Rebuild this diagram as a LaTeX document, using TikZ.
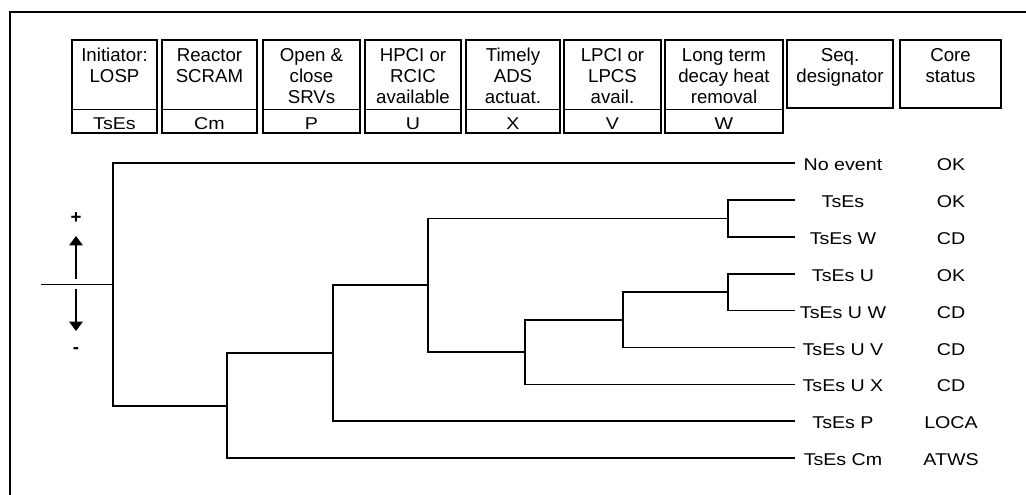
\documentclass[tikz,border=0pt]{standalone}
\usepackage{fontspec}
\setmainfont{Liberation Sans}
\newfontfamily\labfont{Liberation Sans}[FakeStretch=1.15]
\usetikzlibrary{arrows.meta}
\begin{document}
\begin{tikzpicture}[x=0.75pt,y=-0.75pt,
  tree/.style={line width=1.25pt},
  hdr/.style={draw,line width=1.1pt},
  htext/.style={font=\fontsize{14pt}{15.75pt}\selectfont,align=center,anchor=north,inner sep=0pt},
  ctext/.style={font=\labfont\fontsize{12.8pt}{14pt}\selectfont,anchor=base,inner sep=0pt},
  lab/.style={font=\labfont\fontsize{12.8pt}{14pt}\selectfont,anchor=base,inner sep=0pt},
  sign/.style={font=\bfseries\fontsize{14pt}{16pt}\selectfont,inner sep=0pt},
  arr/.style={line width=1.3pt,-{Triangle[width=10pt,length=7pt]}}
]
\useasboundingbox (0,0) rectangle (1026,495);
% outer frame
\draw[line width=1.5pt] (10,495) -- (10,12) -- (1026,12);

% header boxes with code cells
\foreach \l/\r/\nm/\cd in {72/157/h1/TsEs,162/257/h2/Cm,263/360/h3/P,365/461/h4/U,466/560/h5/X,564/661/h6/V,665/783/h7/W}{
  \draw[hdr] (\l,40) rectangle (\r,133);
  \draw[hdr] (\l,109.5) -- (\r,109.5);
  \node[ctext] (\nm c) at ({(\l+\r)/2},129.3) {\cd};
}
\node[htext] (h1) at (114.5,48) {Initiator:\\LOSP};
\node[htext] (h2) at (209.5,48) {Reactor\\SCRAM};
\node[htext] (h3) at (311.5,48) {Open \&\\close\\SRVs};
\node[htext] (h4) at (413,48) {HPCI or\\RCIC\\available};
\node[htext] (h5) at (513,48) {Timely\\ADS\\actuat.};
\node[htext] (h6) at (612.5,48) {LPCI or\\LPCS\\avail.};
\node[htext] (h7) at (724,48) {Long term\\decay heat\\removal};
\draw[hdr] (787,40) rectangle (893,108);
\node[htext] (h8) at (840,48) {Seq.\\designator};
\draw[hdr] (900,40) rectangle (1001,108);
\node[htext] (h9) at (950.5,48) {Core\\status};

% leaves and labels
\foreach \k/\s/\c in {0/No event/OK,1/TsEs/OK,2/TsEs W/CD,3/TsEs U/OK,4/TsEs U W/CD,5/TsEs U V/CD,6/TsEs U X/CD,7/TsEs P/LOCA,8/TsEs Cm/ATWS}{
  \pgfmathsetmacro\yy{163+36.9*\k}
  \coordinate (e\k) at (795,\yy);
  \node[lab] (s\k) at (843,\yy+7.6) {\s};
  \node[lab] (c\k) at (951,\yy+7.6) {\c};
}

% branch points
\coordinate (start) at (41,284.4);
\coordinate (nR) at (113,284.4);
\coordinate (nCm) at (227,405.7);
\coordinate (nP) at (333,353.3);
\coordinate (nU) at (428,285.2);
\coordinate (nX) at (525,352.1);
\coordinate (nV) at (623,319.8);
\coordinate (nW1) at (728,218.35);
\coordinate (nW2) at (728,292.15);

\draw[tree] (start) -- (nR);
\draw[tree,line width=1.7pt] (nR) |- (e0);
\draw[tree] (nR) |- (nCm);
\draw[tree] (nCm) |- (nP);
\draw[tree] (nCm) |- (e8);
\draw[tree] (nP) |- (nU);
\draw[tree] (nP) |- (e7);
\draw[tree] (nU) |- (nW1);
\draw[tree] (nU) |- (nX);
\draw[tree] (nW1) |- (e1);
\draw[tree] (nW1) |- (e2);
\draw[tree] (nX) |- (nV);
\draw[tree] (nX) |- (e6);
\draw[tree] (nV) |- (nW2);
\draw[tree] (nV) |- (e5);
\draw[tree] (nW2) |- (e3);
\draw[tree] (nW2) |- (e4);

% +/- indicator
\node[sign] (plus) at (76,218) {+};
\node[sign] (minus) at (76,351) {-};
\coordinate (ua) at (76,279);
\coordinate (ut) at (76,236);
\coordinate (da) at (76,289);
\coordinate (dt) at (76,331);
\draw[arr] (ua) -- (ut);
\draw[arr] (da) -- (dt);
\end{tikzpicture}
\end{document}
